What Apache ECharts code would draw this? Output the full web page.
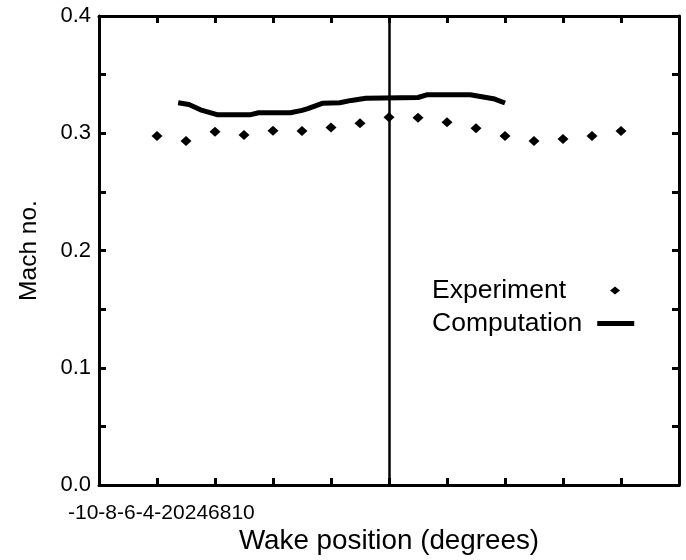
<!DOCTYPE html>
<html><head><meta charset="utf-8">
<script src="https://cdn.jsdelivr.net/npm/echarts@6/dist/echarts.min.js"></script>
<style>html,body{margin:0;padding:0;background:#fff}#c{width:686px;height:560px}</style>
</head><body><div id="c"></div>
<script>
// Data
var xTickLabels = ['-10','-8','-6','-4','-2','0','2','4','6','8','10'];
var expX = [-8,-7,-6,-5,-4,-3,-2,-1,0,1,2,3,4,5,6,7,8];
var expY = [0.2977,0.2934,0.3013,0.2985,0.3022,0.3020,0.3048,0.3085,0.3136,0.3133,0.3093,0.3042,0.2977,0.2934,0.2951,0.2977,0.3019];
var compX = [-7.27,-6.9,-6.5,-5.9,-4.8,-4.5,-3.4,-3.0,-2.8,-2.3,-1.7,-1.3,-0.8,1.0,1.3,2.8,3.2,3.6,4.0];
var compY = [0.326,0.3245,0.320,0.3157,0.3157,0.3175,0.3175,0.3195,0.321,0.3255,0.326,0.328,0.3298,0.3305,0.3328,0.3328,0.3312,0.3295,0.3258];

var FONT = '"Liberation Sans", Arial, sans-serif';
var chart = echarts.init(document.getElementById('c'), null, {renderer:'canvas'});
function pairs(xs, ys){ return xs.map(function(x,i){return [x, ys[i]];}); }
var tickStyle = {color:'#000', width:3, opacity:1};
var axisCommon = {
  axisLine:{show:true, onZero:false, lineStyle:{color:'#000', width:3, opacity:1}},
  splitLine:{show:false}
};
chart.setOption({
  animation:false,
  backgroundColor:'#fff',
  grid:{left:99, right:7, top:16, bottom:75, containLabel:false, outerBoundsMode:'none'},
  xAxis:[
    Object.assign({type:'value', min:-10, max:10, interval:2, position:'bottom',
      axisTick:{show:true, inside:true, length:7, lineStyle:tickStyle},
      axisLabel:{show:false},
      name:'Wake position (degrees)', nameLocation:'middle', nameGap:42,
      nameTextStyle:{fontFamily:FONT, fontSize:27.8, color:'#000'}}, axisCommon),
    Object.assign({type:'value', min:-10, max:10, interval:2, position:'top',
      axisTick:{show:true, inside:true, length:7, lineStyle:tickStyle},
      axisLabel:{show:false}}, axisCommon)
  ],
  yAxis:[
    Object.assign({type:'value', min:0, max:0.4, interval:0.1, position:'left',
      axisTick:{show:true, inside:true, length:7, lineStyle:tickStyle},
      minorTick:{show:true, splitNumber:2, length:7, lineStyle:tickStyle},
      axisLabel:{show:true, margin:8, fontFamily:FONT, fontSize:22, color:'#000',
        formatter:function(v){return v.toFixed(1);}},
      name:'Mach no.', nameLocation:'middle', nameGap:57, nameRotate:90,
      nameTextStyle:{fontFamily:FONT, fontSize:24.5, color:'#000'}}, axisCommon),
    Object.assign({type:'value', min:0, max:0.4, interval:0.1, position:'right',
      axisTick:{show:true, inside:true, length:7, lineStyle:tickStyle},
      minorTick:{show:true, splitNumber:2, length:7, lineStyle:tickStyle},
      axisLabel:{show:false}}, axisCommon)
  ],
  legend:[
    {data:[{name:'Experiment', icon:'path://M0,4L0.01,4Z M44,0L49,4L44,8L39,4Z'}], orient:'vertical', align:'right', left:427, top:272,
      itemWidth:49, itemHeight:8, textStyle:{fontFamily:FONT, fontSize:26.5, color:'#000'}},
    {data:[{name:'Computation', icon:'path://M0,0L0.01,0Z M10,0L47,0L47,5L10,5Z'}], orient:'vertical', align:'right', left:427, top:305,
      itemWidth:47, itemHeight:5, textStyle:{fontFamily:FONT, fontSize:26.5, color:'#000'}}
  ],
  graphic:[
    {type:'text', left:68, top:503, style:{text:xTickLabels.join(''), font:'21px ' + FONT, fill:'#000'}}
  ],
  series:[
    {name:'Experiment', type:'scatter', data:pairs(expX, expY), symbol:'diamond', symbolSize:[11,10],
      itemStyle:{color:'#000', opacity:1},
      markLine:{silent:true, symbol:['none','none'], label:{show:false},
        lineStyle:{color:'#000', width:2.5, type:'solid', opacity:1}, data:[{xAxis:0}]}},
    {name:'Computation', type:'line', data:pairs(compX, compY), showSymbol:false, symbol:'none',
      lineStyle:{color:'#000', width:5}, itemStyle:{color:'#000'}}
  ]
});
</script></body></html>
